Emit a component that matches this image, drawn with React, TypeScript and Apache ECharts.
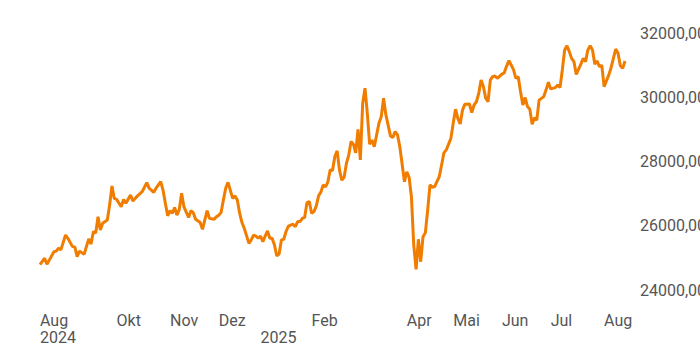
import React, { useEffect, useRef } from "react";
import * as echarts from "echarts";

// Trading-day index (0 = first trading day shown) and closing values
const tradingDay = [
  0, 2, 3, 4, 6, 7, 8, 9, 11, 12, 14, 15, 16, 17, 19, 21, 22, 23, 24, 25, 26, 27, 29, 30, 31, 32, 33, 35, 36, 37, 39,
  40, 41, 42, 44, 46, 47, 49, 50, 52, 53, 54, 55, 56, 57, 58, 59, 60, 61, 62, 64, 65, 66, 67, 69, 70, 71, 72, 73, 75,
  76, 77, 78, 79, 80, 81, 83, 84, 85, 86, 87, 88, 90, 91, 92, 93, 94, 95, 96, 97, 98, 99, 100, 101, 102, 103, 104, 105,
  106, 107, 108, 109, 110, 111, 112, 113, 114, 115, 116, 117, 118, 119, 120, 121, 122, 123, 124, 125, 126, 127, 128,
  129, 130, 131, 132, 133, 134, 135, 136, 137, 138, 139, 140, 141, 142, 143, 144, 146, 147, 148, 149, 151, 152, 153,
  154, 155, 157, 158, 159, 160, 161, 162, 163, 164, 165, 166, 167, 168, 169, 170, 172, 173, 174, 175, 177, 178, 179,
  180, 181, 182, 183, 185, 186, 187, 188, 189, 190, 191, 192, 193, 194, 195, 196, 197, 199, 200, 201, 202, 203, 204,
  205, 206, 207, 208, 209, 210, 211, 212, 213, 214, 215, 217, 218, 219, 220, 222, 223, 224, 225, 226, 227, 228, 229,
  230, 231, 233, 234, 235, 236, 237, 238, 239, 240, 241, 242, 243, 245, 246, 248, 249, 250, 251, 252,
];
const closes = [
  24790, 24990, 24800, 24930, 25190, 25210, 25300, 25250, 25710, 25610, 25350, 25340, 25040, 25210, 25110, 25590,
  25430, 25820, 25770, 26280, 25870, 26080, 26180, 26650, 27240, 26850, 26820, 26590, 26820, 26700, 26960,
  26770, 26850, 26930, 27060, 27340, 27170, 27040, 27170, 27370, 27110, 26700, 26310, 26470, 26390, 26570, 26330,
  26510, 27010, 26590, 26260, 26470, 26410, 26200, 26100, 25890, 26180, 26470, 26230, 26200,
  26280, 26330, 26410, 26800, 27170, 27350, 26850, 26930, 26800, 26390, 26100, 25920, 25450, 25560, 25710, 25680,
  25610, 25680, 25500, 25680, 25840, 25610, 25610, 25400, 25060, 25120, 25560, 25580,
  25820, 25990, 26020, 26050, 25970, 26130, 26130, 26230, 26260, 26720, 26750, 26390, 26440, 26610, 26930, 27050,
  27270, 27210, 27360, 27740, 27720, 28150, 28330,
  27740, 27420, 27510, 27940, 28200, 28620, 28540, 28270, 29000, 28050, 29810, 30280, 29500, 28540, 28670, 28460,
  29190, 29390, 29970, 29450, 28790, 28750, 28930,
  28830, 28460, 27370, 27680, 27510, 26900, 25400, 24640, 25580, 24880, 25660, 25780, 26490, 27270, 27200, 27220,
  27530, 27890, 28270, 28360, 28720, 29190, 29630,
  29340, 29170, 29600, 29780, 29790, 29520, 29760, 29860, 30120, 30540, 30330, 29970, 29860, 30540, 30640, 30660,
  30590, 30720, 30760, 30970, 31140, 31000, 30850,
  30590, 30640, 30170, 29760, 29990, 29710, 29630, 29160, 29360, 29290, 29910, 30020, 30230, 30470, 30260, 30300,
  30380, 30300, 30850, 31470, 31600, 31420, 31210,
  31110, 30710, 31030, 31210, 31110, 31470, 31600, 31470, 31030, 31130, 30950, 31000, 30330, 30690, 30920, 31500,
  31370, 30980, 30900, 31130,
];

const totalTradingDays = 253;
const monthTickDays = [0, 33, 56, 77, 95, 117, 158, 178, 199, 220, 243];
const monthTickLabels = ["Aug\n2024", "Okt", "Nov", "Dez", "\n2025", "Feb", "Apr", "Mai", "Jun", "Jul", "Aug"];

const yMin = 24000;
const yMax = 32000;
const yStep = 2000;

export default function App() {
  const ref = useRef<HTMLDivElement>(null);

  useEffect(() => {
    if (!ref.current) return;
    const chart = echarts.init(ref.current, undefined, { renderer: "svg" });
    const categories = Array.from({ length: totalTradingDays }, (_, i) => String(i));
    const labelMap: Record<number, string> = {};
    monthTickDays.forEach((d, i) => (labelMap[d] = monthTickLabels[i]));

    chart.setOption({
      animation: false,
      backgroundColor: "#ffffff",
      grid: { left: 40, right: 75, top: 33, bottom: 60, containLabel: false, outerBoundsMode: "none" },
      xAxis: {
        type: "category",
        data: categories,
        boundaryGap: false,
        axisLine: { show: false },
        axisTick: { show: false },
        splitLine: { show: false },
        axisLabel: {
          interval: (idx: number) => labelMap[idx] !== undefined,
          align: "left",
          margin: 22,
          lineHeight: 17,
          fontSize: 16,
          color: "#555555",
          fontFamily: "Roboto, Arial, sans-serif",
          formatter: (_v: string, idx: number) => labelMap[idx] ?? "",
        },
      },
      yAxis: {
        type: "value",
        position: "right",
        min: yMin,
        max: yMax,
        interval: yStep,
        axisLine: { show: false },
        axisTick: { show: false },
        splitLine: { show: false },
        axisLabel: {
          margin: 15,
          fontSize: 16,
          color: "#555555",
          fontFamily: "Roboto, Arial, sans-serif",
          formatter: (v: number) => v.toFixed(2).replace(".", ","),
        },
      },
      series: [
        {
          type: "line",
          data: tradingDay.map((d, i) => [d, closes[i]]),
          showSymbol: false,
          smooth: false,
          lineStyle: { color: "#F07D00", width: 3 },
          itemStyle: { color: "#F07D00" },
        },
      ],
    });
    return () => chart.dispose();
  }, []);

  return <div ref={ref} style={{ width: 700, height: 350, position: "absolute", left: 0, top: 0 }} />;
}
